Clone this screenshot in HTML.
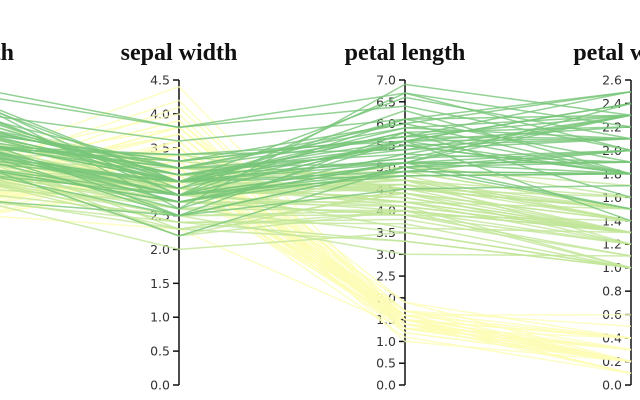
<!DOCTYPE html>
<html><head><meta charset="utf-8"><style>
html,body{margin:0;padding:0;background:#fff;width:640px;height:400px;overflow:hidden}
svg{display:block}
.tick text{font:12.5px "DejaVu Sans","Liberation Sans",sans-serif;fill:#333}
.title{font:bold 24px "Liberation Serif",serif;fill:#111}
</style></head><body>
<svg id="chart" width="640" height="400"></svg>
<script>
const dims = ["sepal length","sepal width","petal length","petal width"];
const domainMax = [8, 4.5, 7, 2.6];
const tickStep = [0.5, 0.5, 0.5, 0.2];
const species = ["setosa","versicolor","virginica"];
const speciesColors = ["#fdfdb8","#c2e699","#78c679"];
const setosa = [[5.1,3.5,1.4,0.2],[4.9,3.0,1.4,0.2],[4.7,3.2,1.3,0.2],[4.6,3.1,1.5,0.2],[5.0,3.6,1.4,0.2],[5.4,3.9,1.7,0.4],[4.6,3.4,1.4,0.3],[5.0,3.4,1.5,0.2],[4.4,2.9,1.4,0.2],[4.9,3.1,1.5,0.1],[5.4,3.7,1.5,0.2],[4.8,3.4,1.6,0.2],[4.8,3.0,1.4,0.1],[4.3,3.0,1.1,0.1],[5.8,4.0,1.2,0.2],[5.7,4.4,1.5,0.4],[5.4,3.9,1.3,0.4],[5.1,3.5,1.4,0.3],[5.7,3.8,1.7,0.3],[5.1,3.8,1.5,0.3],[5.4,3.4,1.7,0.2],[5.1,3.7,1.5,0.4],[4.6,3.6,1.0,0.2],[5.1,3.3,1.7,0.5],[4.8,3.4,1.9,0.2],[5.0,3.0,1.6,0.2],[5.0,3.4,1.6,0.4],[5.2,3.5,1.5,0.2],[5.2,3.4,1.4,0.2],[4.7,3.2,1.6,0.2],[4.8,3.1,1.6,0.2],[5.4,3.4,1.5,0.4],[5.2,4.1,1.5,0.1],[5.5,4.2,1.4,0.2],[4.9,3.1,1.5,0.1],[5.0,3.2,1.2,0.2],[5.5,3.5,1.3,0.2],[4.9,3.1,1.5,0.1],[4.4,3.0,1.3,0.2],[5.1,3.4,1.5,0.2],[5.0,3.5,1.3,0.3],[4.5,2.3,1.3,0.3],[4.4,3.2,1.3,0.2],[5.0,3.5,1.6,0.6],[5.1,3.8,1.9,0.4],[4.8,3.0,1.4,0.3],[5.1,3.8,1.6,0.2],[4.6,3.2,1.4,0.2],[5.3,3.7,1.5,0.2],[5.0,3.3,1.4,0.2]];
const versicolor = [[7.0,3.2,4.7,1.4],[6.4,3.2,4.5,1.5],[6.9,3.1,4.9,1.5],[5.5,2.3,4.0,1.3],[6.5,2.8,4.6,1.5],[5.7,2.8,4.5,1.3],[6.3,3.3,4.7,1.6],[4.9,2.4,3.3,1.0],[6.6,2.9,4.6,1.3],[5.2,2.7,3.9,1.4],[5.0,2.0,3.5,1.0],[5.9,3.0,4.2,1.5],[6.0,2.2,4.0,1.0],[6.1,2.9,4.7,1.4],[5.6,2.9,3.6,1.3],[6.7,3.1,4.4,1.4],[5.6,3.0,4.5,1.5],[5.8,2.7,4.1,1.0],[6.2,2.2,4.5,1.5],[5.6,2.5,3.9,1.1],[5.9,3.2,4.8,1.8],[6.1,2.8,4.0,1.3],[6.3,2.5,4.9,1.5],[6.1,2.8,4.7,1.2],[6.4,2.9,4.3,1.3],[6.6,3.0,4.4,1.4],[6.8,2.8,4.8,1.4],[6.7,3.0,5.0,1.7],[6.0,2.9,4.5,1.5],[5.7,2.6,3.5,1.0],[5.5,2.4,3.8,1.1],[5.5,2.4,3.7,1.0],[5.8,2.7,3.9,1.2],[6.0,2.7,5.1,1.6],[5.4,3.0,4.5,1.5],[6.0,3.4,4.5,1.6],[6.7,3.1,4.7,1.5],[6.3,2.3,4.4,1.3],[5.6,3.0,4.1,1.3],[5.5,2.5,4.0,1.3],[5.5,2.6,4.4,1.2],[6.1,3.0,4.6,1.4],[5.8,2.6,4.0,1.2],[5.0,2.3,3.3,1.0],[5.6,2.7,4.2,1.3],[5.7,3.0,4.2,1.2],[5.7,2.9,4.2,1.3],[6.2,2.9,4.3,1.3],[5.1,2.5,3.0,1.1],[5.7,2.8,4.1,1.3]];
const virginica = [[6.3,3.3,6.0,2.5],[5.8,2.7,5.1,1.9],[7.1,3.0,5.9,2.1],[6.3,2.9,5.6,1.8],[6.5,3.0,5.8,2.2],[7.6,3.0,6.6,2.1],[4.9,2.5,4.5,1.7],[7.3,2.9,6.3,1.8],[6.7,2.5,5.8,1.8],[7.2,3.6,6.1,2.5],[6.5,3.2,5.1,2.0],[6.4,2.7,5.3,1.9],[6.8,3.0,5.5,2.1],[5.7,2.5,5.0,2.0],[5.8,2.8,5.1,2.4],[6.4,3.2,5.3,2.3],[6.5,3.0,5.5,1.8],[7.7,3.8,6.7,2.2],[7.7,2.6,6.9,2.3],[6.0,2.2,5.0,1.5],[6.9,3.2,5.7,2.3],[5.6,2.8,4.9,2.0],[7.7,2.8,6.7,2.0],[6.3,2.7,4.9,1.8],[6.7,3.3,5.7,2.1],[7.2,3.2,6.0,1.8],[6.2,2.8,4.8,1.8],[6.1,3.0,4.9,1.8],[6.4,2.8,5.6,2.1],[7.2,3.0,5.8,1.6],[7.4,2.8,6.1,1.9],[7.9,3.8,6.4,2.0],[6.4,2.8,5.6,2.2],[6.3,2.8,5.1,1.5],[6.1,2.6,5.6,1.4],[7.7,3.0,6.1,2.3],[6.3,3.4,5.6,2.4],[6.4,3.1,5.5,1.8],[6.0,3.0,4.8,1.8],[6.9,3.1,5.4,2.1],[6.7,3.1,5.6,2.4],[6.9,3.1,5.1,2.3],[5.8,2.7,5.1,1.9],[6.8,3.2,5.9,2.3],[6.7,3.3,5.7,2.5],[6.7,3.0,5.2,2.3],[6.3,2.5,5.0,1.9],[6.5,3.0,5.2,2.0],[6.2,3.4,5.4,2.3],[5.9,3.0,5.1,1.8]];
const groups = [setosa, versicolor, virginica];

const NS = "http://www.w3.org/2000/svg";
const svg = document.getElementById("chart");
const X0 = -47, DX = 226, YTOP = 80, YBOT = 385;
function xPos(i){ return X0 + i*DX; }
function yPos(i, v){ return YBOT - v/domainMax[i]*(YBOT-YTOP); }
function mk(tag, attrs, parent){ const e=document.createElementNS(NS,tag); for(const k in attrs) e.setAttribute(k,attrs[k]); (parent||svg).appendChild(e); return e; }

dims.forEach((d,i)=>{
  const g = mk("g",{class:"axis"});
  
  
  const x = xPos(i);
  mk("line",{x1:x,x2:x,y1:YTOP,y2:YBOT,stroke:"#111","stroke-width":1.5},g);
  const n = Math.round(domainMax[i]/tickStep[i]);
  for(let k=0;k<=n;k++){
    const v = k*tickStep[i], y = yPos(i,v);
    const t = mk("g",{class:"tick"},g);
    
    
    mk("line",{x1:x-6,x2:x,y1:y,y2:y,stroke:"#111","stroke-width":1.5},t);
    const tx = mk("text",{x:x-9,y:y+4.5,"text-anchor":"end"},t);
    tx.textContent = v.toFixed(1);
  }
  const ti = mk("text",{x:x,y:60,"text-anchor":"middle",class:"title"},g);
  
  
  ti.textContent = d;
});

groups.forEach((rows,s)=>{
  const g = mk("g",{});
  
  
  rows.forEach(r=>{
    const pts = r.map((v,i)=>xPos(i).toFixed(1)+","+yPos(i,v).toFixed(1)).join(" ");
    const p = mk("polyline",{points:pts,fill:"none",stroke:speciesColors[s],"stroke-width":1.5,"stroke-opacity":0.8},g);
    
    
  });
});
</script>
</body></html>
